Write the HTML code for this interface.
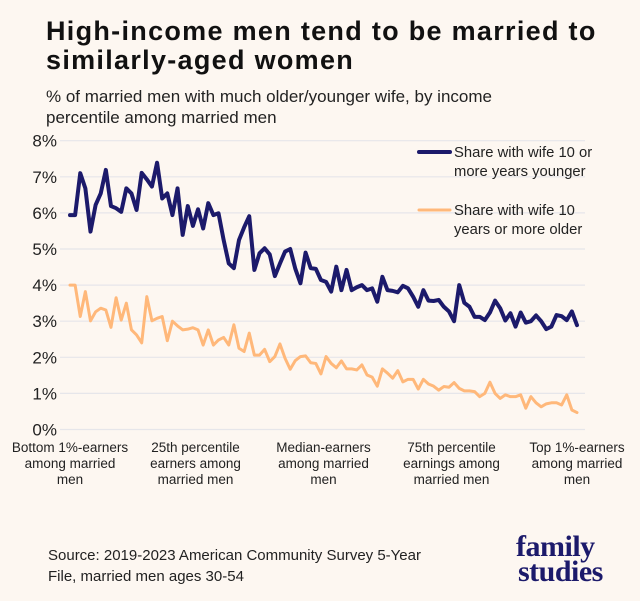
<!DOCTYPE html>
<html><head><meta charset="utf-8"><style>
body{margin:0;background:#fff;}
#wrap{position:relative;width:640px;height:601px;background:#fdf7f1;font-family:"Liberation Sans",sans-serif;overflow:hidden;}
.t{position:absolute;white-space:nowrap;color:#111;}
</style></head><body>
<div id="wrap">
<div class="t" style="left:46px;top:17px;font-size:27px;letter-spacing:1.3px;font-weight:bold;line-height:29px;">High-income men tend to be married to<br>similarly-aged women</div>
<div class="t" style="left:46px;top:86px;font-size:17px;line-height:21px;color:#222;">% of married men with much older/younger wife, by income<br>percentile among married men</div>
<svg id="chart" width="640" height="500" style="position:absolute;left:0;top:0;"></svg>
<div class="t" style="left:48px;top:545px;font-size:15px;line-height:21px;color:#222;">Source: 2019-2023 American Community Survey 5-Year<br>File, married men ages 30-54</div>
<div class="t" style="left:516px;top:534px;font-family:'Liberation Serif',serif;font-weight:bold;font-size:30px;line-height:25px;color:#1c1a6b;letter-spacing:-0.5px;">family<br><span style="margin-left:2px">studies</span></div>
</div>
<script>
const yTicks=[0,1,2,3,4,5,6,7,8];
const xLabels=[["Bottom 1%-earners","among married","men"],["25th percentile","earners among","married men"],["Median-earners","among married","men"],["75th percentile","earnings among","married men"],["Top 1%-earners","among married","men"]];
const xLabelPos=[0,24.5,49.5,74.5,99];
const younger=[5.94,5.94,7.10,6.68,5.48,6.22,6.54,7.19,6.19,6.13,6.03,6.68,6.54,6.08,7.11,6.93,6.73,7.39,6.40,6.54,5.94,6.68,5.39,6.19,5.64,6.10,5.57,6.27,5.94,5.99,5.25,4.60,4.47,5.25,5.60,5.91,4.42,4.88,5.02,4.85,4.25,4.60,4.93,5.00,4.45,4.05,4.90,4.47,4.45,4.14,4.09,3.82,4.51,3.86,4.42,3.86,3.94,4.00,3.86,3.91,3.54,4.23,3.86,3.84,3.80,3.98,3.91,3.68,3.40,3.86,3.57,3.56,3.59,3.40,3.27,3.00,4.00,3.51,3.40,3.12,3.12,3.03,3.24,3.57,3.36,3.02,3.22,2.85,3.24,2.96,3.00,3.16,3.00,2.78,2.85,3.17,3.14,3.03,3.27,2.89];
const older=[4.00,4.00,3.13,3.82,3.01,3.26,3.36,3.31,2.83,3.65,3.03,3.50,2.76,2.62,2.40,3.68,3.01,3.08,3.13,2.46,3.00,2.87,2.76,2.78,2.82,2.76,2.34,2.76,2.34,2.48,2.55,2.34,2.90,2.25,2.16,2.67,2.06,2.06,2.22,1.88,2.02,2.37,1.97,1.67,1.91,2.02,2.04,1.85,1.83,1.54,2.02,1.83,1.71,1.90,1.68,1.68,1.65,1.79,1.51,1.45,1.20,1.68,1.56,1.42,1.63,1.32,1.39,1.39,1.12,1.39,1.26,1.20,1.09,1.19,1.17,1.30,1.14,1.07,1.07,1.05,0.91,1.00,1.31,1.00,0.86,0.96,0.91,0.91,0.96,0.59,0.91,0.74,0.63,0.71,0.74,0.74,0.68,0.96,0.54,0.47];
const NS="http://www.w3.org/2000/svg";
const svg=document.getElementById('chart');
const x=i=>70+i*(507/99);
const y=v=>429.5-v*36.1;
function mk(t,a){const e=document.createElementNS(NS,t);for(const k in a)e.setAttribute(k,a[k]);svg.appendChild(e);return e;}
yTicks.forEach(v=>{
  const g=mk('line',{x1:60,x2:585,y1:y(v),y2:y(v),stroke:'#e6e6ea','stroke-width':1.2});
  
  
  const t=mk('text',{x:57,y:y(v)+6,'text-anchor':'end','font-size':17,fill:'#222','font-family':'Liberation Sans, sans-serif'});
  t.textContent=v+'%';
  
  
});
xLabels.forEach((lines,k)=>{
  const t=mk('text',{x:x(xLabelPos[k]),y:452,'text-anchor':'middle','font-size':13.5,fill:'#222','font-family':'Liberation Sans, sans-serif'});
  
  
  lines.forEach((l,j)=>{const s=document.createElementNS(NS,'tspan');s.setAttribute('x',x(xLabelPos[k]));s.setAttribute('dy',j?16:0);s.textContent=l;t.appendChild(s);});
});
function line(arr,col,w,name){
  const p=mk('polyline',{points:arr.map((v,i)=>x(i)+','+y(v)).join(' '),fill:'none',stroke:col,'stroke-width':w,'stroke-linejoin':'round','stroke-linecap':'round'});
  
  
}
line(older,'#ffb87a',3,'series-wife-older');
line(younger,'#1c1a6b',4,'series-wife-younger');
const leg=[['#1c1a6b',4,152,['Share with wife 10 or','more years younger'],'legend-entry-younger'],['#ffb87a',3,210,['Share with wife 10','years or more older'],'legend-entry-older']];
leg.forEach(([c,w,ly,txt,n])=>{
  const l=mk('line',{x1:419,x2:450,y1:ly,y2:ly,stroke:c,'stroke-width':w,'stroke-linecap':'round'});
  
  
  const t=mk('text',{x:454,y:ly+5,'font-size':14.8,fill:'#222','font-family':'Liberation Sans, sans-serif'});
  
  
  txt.forEach((s,j)=>{const ts=document.createElementNS(NS,'tspan');ts.setAttribute('x',454);ts.setAttribute('dy',j?19:0);ts.textContent=s;t.appendChild(ts);});
});
</script>
</body></html>
